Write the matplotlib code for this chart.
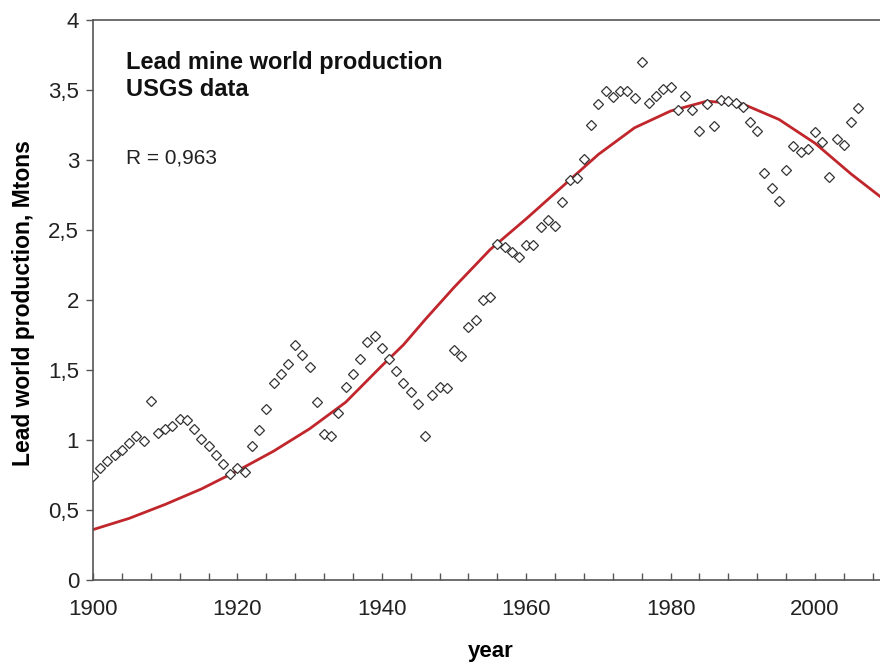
import matplotlib
matplotlib.use("Agg")
import matplotlib.pyplot as plt
from matplotlib.ticker import MultipleLocator, FuncFormatter

plt.rcParams["font.family"] = ["Liberation Sans", "DejaVu Sans"]

# ===== data =====
years = list(range(1900, 2007))
production = [
    0.74, 0.80, 0.85, 0.89, 0.93, 0.98, 1.03, 0.99, 1.28, 1.05,   # 1900-1909
    1.08, 1.10, 1.15, 1.14, 1.08, 1.01, 0.96, 0.89, 0.83, 0.76,   # 1910-1919
    0.80, 0.77, 0.96, 1.07, 1.22, 1.41, 1.47, 1.54, 1.68, 1.61,   # 1920-1929
    1.52, 1.27, 1.04, 1.03, 1.19, 1.38, 1.47, 1.58, 1.70, 1.745,  # 1930-1939
    1.66, 1.58, 1.49, 1.41, 1.34, 1.255, 1.03, 1.32, 1.38, 1.37,  # 1940-1949
    1.64, 1.60, 1.81, 1.86, 2.00, 2.02, 2.40, 2.38, 2.345, 2.31,  # 1950-1959
    2.39, 2.39, 2.52, 2.57, 2.53, 2.70, 2.86, 2.87, 3.01, 3.25,   # 1960-1969
    3.40, 3.49, 3.45, 3.49, 3.49, 3.445, 3.70, 3.41, 3.46, 3.51,  # 1970-1979
    3.52, 3.36, 3.46, 3.36, 3.21, 3.40, 3.24, 3.43, 3.42, 3.41,   # 1980-1989
    3.38, 3.27, 3.21, 2.91, 2.80, 2.71, 2.93, 3.10, 3.06, 3.08,   # 1990-1999
    3.20, 3.13, 2.88, 3.15, 3.11, 3.27, 3.37,                     # 2000-2006
]

# fitted curve, read every few years
fit_years = [1900, 1905, 1910, 1915, 1920, 1925, 1930, 1935, 1940, 1943, 1946,
             1950, 1955, 1960, 1965, 1970, 1975, 1980, 1985, 1990, 1995,
             2000, 2005, 2009]
fit_values = [0.36, 0.44, 0.54, 0.65, 0.78, 0.92, 1.08, 1.27, 1.53, 1.68, 1.86,
              2.09, 2.36, 2.58, 2.81, 3.04, 3.23, 3.35, 3.42, 3.40, 3.29,
              3.12, 2.90, 2.74]

# ===== figure =====
fig = plt.figure(figsize=(8.8, 6.62), dpi=100)
ax = fig.add_axes([93 / 880, 1 - 580 / 662, 787 / 880, 560 / 662])

ax.plot(fit_years, fit_values, color="#c0262b", lw=2.0, zorder=2)
ax.plot(years, production, ls="none", marker="D", ms=5, mfc="white",
        mec="#333333", mew=0.9, zorder=3)

ax.set_xlim(1900, 2009)
ax.set_ylim(0, 4)

ax.xaxis.set_major_locator(MultipleLocator(20))
ax.xaxis.set_minor_locator(MultipleLocator(4))
ax.yaxis.set_major_locator(MultipleLocator(0.5))
ax.yaxis.set_major_formatter(FuncFormatter(lambda v, p: f"{v:g}".replace(".", ",")))

ax.tick_params(axis="x", which="both", direction="in", length=5, width=1,
               color="#555555", labelsize=16, pad=14)
ax.tick_params(axis="y", which="both", direction="out", length=5, width=1,
               color="#555555", labelsize=16, pad=5)
for lab in ax.get_xticklabels() + ax.get_yticklabels():
    lab.set_color("#222222")

for side in ["left", "bottom", "top"]:
    ax.spines[side].set_color("#555555")
    ax.spines[side].set_linewidth(1.2)
ax.spines["right"].set_visible(False)

# annotation block, placed in figure pixels
fig.text(126 / 880, 1 - 62 / 662, "Lead mine world production",
         fontsize=17, fontweight="bold", va="center", ha="left", color="#111111")
fig.text(126 / 880, 1 - 89 / 662, "USGS data",
         fontsize=17, fontweight="bold", va="center", ha="left", color="#111111")
fig.text(126 / 880, 1 - 158 / 662, "R = 0,963",
         fontsize=15, va="center", ha="left", color="#222222")

fig.text(491 / 880, 1 - 652 / 662, "year", fontsize=16, fontweight="bold",
         ha="center", va="center")
fig.text(24 / 880, 1 - 303 / 662, "Lead world production, Mtons", fontsize=16.5,
         fontweight="bold", ha="center", va="center", rotation=90)

fig.savefig("out.png", dpi=100)
